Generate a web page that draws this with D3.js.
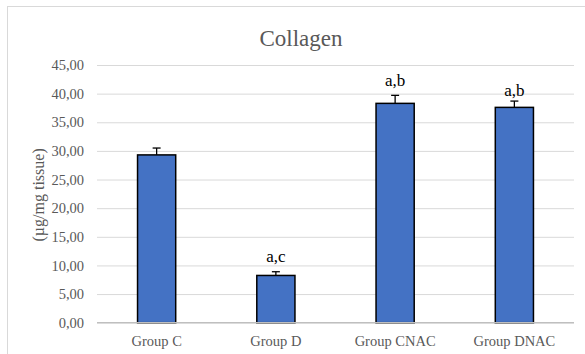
<!DOCTYPE html>
<html>
<head>
<meta charset="utf-8">
<script src="https://cdn.jsdelivr.net/npm/d3@7/dist/d3.min.js"></script>
<style>
  html, body { margin: 0; padding: 0; background: #fff; }
  svg { display: block; }
</style>
</head>
<body>
<svg id="chart" width="585" height="354"></svg>
<script>
// Collagen content per group, mean with upper error bar
const categories = ["Group C", "Group D", "Group CNAC", "Group DNAC"];
const means = [29.3, 8.25, 38.3, 37.6];
const errors = [1.2, 0.65, 1.4, 1.1];
const sigLabels = ["", "a,c", "a,b", "a,b"];
const yTicks = [0, 5, 10, 15, 20, 25, 30, 35, 40, 45];

const svg = d3.select("#chart");
const W = 585, H = 354;
const plot = { left: 97, right: 574, top: 65, bottom: 322.7 };
const serif = "Liberation Serif";
// gap between error-bar cap and letter baseline (last label sits lower)
const labelGap = i => (i === 3 ? 5.5 : 9.5);

// outer chart frame (runs off the right and bottom edges)
svg.append("rect")
  .attr("x", 7.5).attr("y", 6.5)
  .attr("width", W).attr("height", H)
  .attr("fill", "#fff")
  .attr("stroke", "#d9d9d9").attr("stroke-width", 1);

const x = d3.scaleBand()
  .domain(categories)
  .range([plot.left, plot.right])
  .paddingInner(0.68).paddingOuter(0.34);

const y = d3.scaleLinear()
  .domain([0, 45])
  .range([plot.bottom, plot.top]);

// gridlines + tick labels
const yAxis = d3.axisLeft(y)
  .tickValues(yTicks)
  .tickSize(-(plot.right - plot.left))
  .tickPadding(13)
  .tickFormat(d => d3.format(".2f")(d).replace(".", ","));

const gy = svg.append("g")
  .attr("transform", `translate(${plot.left},0)`)
  .call(yAxis)
  .attr("font-family", serif);
gy.select(".domain").remove();
gy.selectAll(".tick line").attr("stroke", "#d9d9d9").attr("stroke-width", 1);
gy.selectAll(".tick text")
  .attr("fill", "#595959")
  .attr("font-family", serif)
  .attr("font-size", 14.5);

// category axis
const xAxis = d3.axisBottom(x).tickSize(0).tickPadding(13);
const gx = svg.append("g")
  .attr("transform", `translate(0,${plot.bottom})`)
  .call(xAxis)
  .attr("font-family", serif);
gx.select(".domain").remove();
gx.selectAll(".tick text")
  .attr("fill", "#595959")
  .attr("font-family", serif)
  .attr("font-size", 14.5);

// bars
svg.append("g").selectAll("rect")
  .data(categories)
  .join("rect")
  .attr("x", d => x(d))
  .attr("y", (d, i) => y(means[i]))
  .attr("width", x.bandwidth())
  .attr("height", (d, i) => y(0) - y(means[i]))
  .attr("fill", "#4472c4")
  .attr("stroke", "#000")
  .attr("stroke-width", 1.5);

// baseline
svg.append("line")
  .attr("x1", plot.left).attr("x2", plot.right)
  .attr("y1", y(0)).attr("y2", y(0))
  .attr("stroke", "#bfbfbf").attr("stroke-width", 1.2);

// upper error bars
const eb = svg.append("g").attr("stroke", "#000").attr("stroke-width", 1.3);
categories.forEach((c, i) => {
  const cx = x(c) + x.bandwidth() / 2;
  eb.append("line")
    .attr("x1", cx).attr("x2", cx)
    .attr("y1", y(means[i])).attr("y2", y(means[i] + errors[i]));
  eb.append("line")
    .attr("x1", cx - 4).attr("x2", cx + 4)
    .attr("y1", y(means[i] + errors[i])).attr("y2", y(means[i] + errors[i]));
});

// significance letters
svg.append("g").selectAll("text")
  .data(categories)
  .join("text")
  .attr("x", d => x(d) + x.bandwidth() / 2)
  .attr("y", (d, i) => y(means[i] + errors[i]) - labelGap(i))
  .attr("text-anchor", "middle")
  .attr("fill", "#000")
  .attr("font-family", serif)
  .attr("font-size", 17)
  .text((d, i) => sigLabels[i]);

// title
svg.append("text")
  .attr("x", 301).attr("y", 46)
  .attr("text-anchor", "middle")
  .attr("fill", "#595959")
  .attr("font-family", serif)
  .attr("font-size", 23)
  .text("Collagen");

// y axis title
svg.append("text")
  .attr("transform", `translate(44,${(plot.top + plot.bottom) / 2 + 1}) rotate(-90)`)
  .attr("text-anchor", "middle")
  .attr("fill", "#595959")
  .attr("font-family", serif)
  .attr("font-size", 16)
  .text("(µg/mg tissue)");
</script>
</body>
</html>
